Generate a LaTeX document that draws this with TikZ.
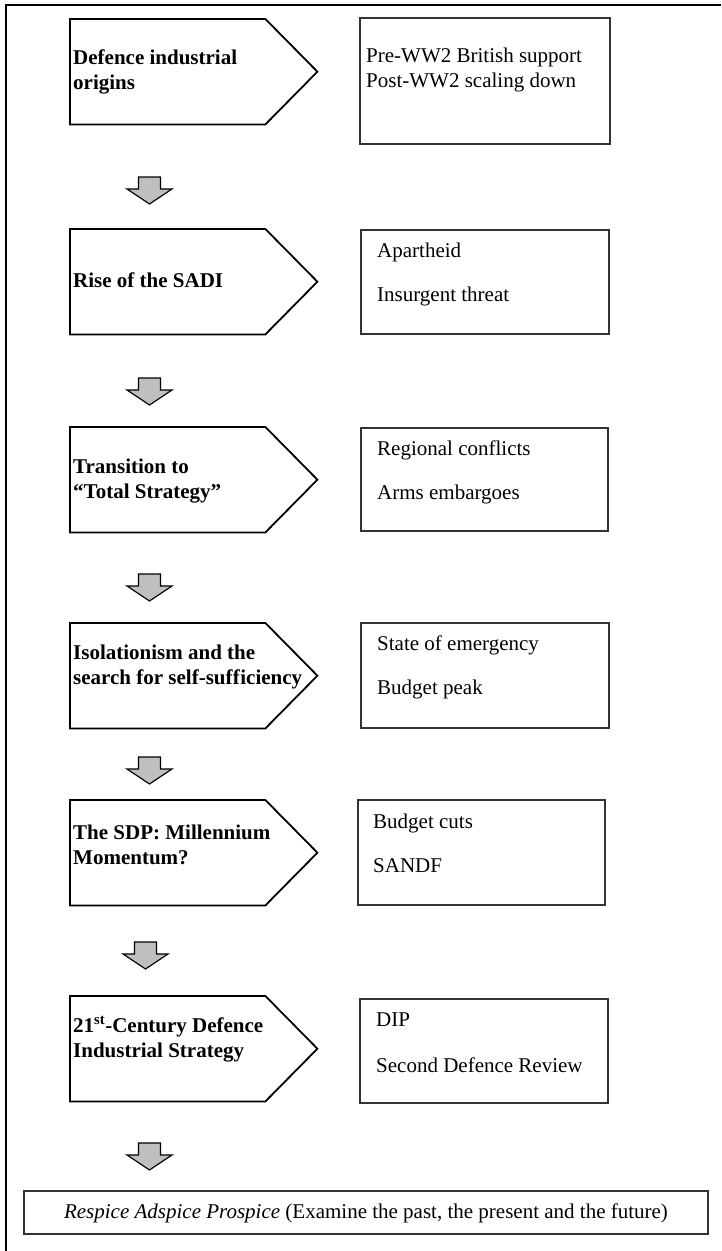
\documentclass[tikz,border=0pt]{standalone}
\usepackage{fontspec}
\setmainfont{Liberation Serif}
\definecolor{arrowgray}{HTML}{BFBFBF}
\definecolor{boxline}{HTML}{333333}
\begin{document}
\begin{tikzpicture}[x=1pt,y=-1pt,
  pentframe/.style={draw=none, minimum width=247pt, minimum height=105pt, inner sep=0pt, anchor=north west},
  pentline/.style={draw=black, line width=1.8pt, line join=miter},
  infobox/.style={draw=boxline, line width=1.2pt},
  headtext/.style={font=\bfseries\fontsize{21}{25}\selectfont, align=left, anchor=west, inner sep=0pt},
  itemtext/.style={font=\fontsize{21}{25}\selectfont, anchor=west, inner sep=0pt},
  blockarrow/.style={fill=arrowgray, draw=black, line width=1.2pt, line join=miter},
  downarrow/.pic={\draw[blockarrow] (-11,0) -- (11,0) -- (11,12) -- (22.5,12) -- (0,27) -- (-22.5,12) -- (-11,12) -- cycle;}]
\useasboundingbox (0,0) rectangle (721,1251);
% outer frame (top and left sides visible)
\draw[line width=2.5pt] (6,1251) -- (6,5) -- (721,5);

% pentagons
\foreach \n/\t in {1/19, 2/229, 3/427, 4/623, 5/800, 6/996}{
  \node[pentframe] (p\n) at (70,\t) {};
  \draw[pentline] (p\n.north west) -- ([xshift=-52pt]p\n.north east) -- (p\n.east)
     -- ([xshift=-52pt]p\n.south east) -- (p\n.south west) -- cycle;
}
\node[headtext] (t1) at (73,72) {Defence industrial\\origins};
\node[headtext] (t2) at (73,280) {Rise of the SADI};
\node[headtext] (t3) at (73,481) {Transition to\\``Total Strategy''};
\node[headtext] (t4) at (73,667) {Isolationism and the\\search for self-suf\kern0.4pt f\kern0.4pt iciency};
\node[headtext] (t5) at (73,845) {The SDP: Millennium\\Momentum?};
\node[headtext] (t6) at (73,1039) {21\textsuperscript{st}-Century Defence\\Industrial Strategy};

% info boxes
\draw[infobox] (360,18) rectangle (610,144);
\draw[infobox] (361,230) rectangle (609,334);
\draw[infobox] (361,428) rectangle (608,531);
\draw[infobox] (361,623) rectangle (609,728);
\draw[infobox] (358,800) rectangle (605,905);
\draw[infobox] (360,999) rectangle (608,1103);

\node[itemtext] (b1a) at (366,57) {Pre-WW2 British support};
\node[itemtext] (b1b) at (366,82) {Post-WW2 scaling down};
\node[itemtext] (b2a) at (377,252) {Apartheid};
\node[itemtext] (b2b) at (377,296) {Insurgent threat};
\node[itemtext] (b3a) at (377,450) {Regional conflicts};
\node[itemtext] (b3b) at (377,494) {Arms embargoes};
\node[itemtext] (b4a) at (377,645) {State of emergency};
\node[itemtext] (b4b) at (377,689) {Budget peak};
\node[itemtext] (b5a) at (373,823) {Budget cuts};
\node[itemtext] (b5b) at (373,866) {SANDF};
\node[itemtext] (b6a) at (376,1020) {DIP};
\node[itemtext] (b6b) at (376,1065) {Second Defence Review};

% block arrows
\pic (a1) at (149.5,177) {downarrow};
\pic (a2) at (149.5,378) {downarrow};
\pic (a3) at (149.5,574) {downarrow};
\pic (a4) at (149.5,757) {downarrow};
\pic (a5) at (145.5,942) {downarrow};
\pic (a6) at (149.5,1143) {downarrow};

% final box
\draw[infobox] (24,1191) rectangle (708,1234);
\node[font=\fontsize{21}{25}\selectfont, inner sep=0pt] (final) at (366,1213)
  {\textit{Respice Adspice Prospice} (Examine the past, the present and the future)};
\end{tikzpicture}
\end{document}
